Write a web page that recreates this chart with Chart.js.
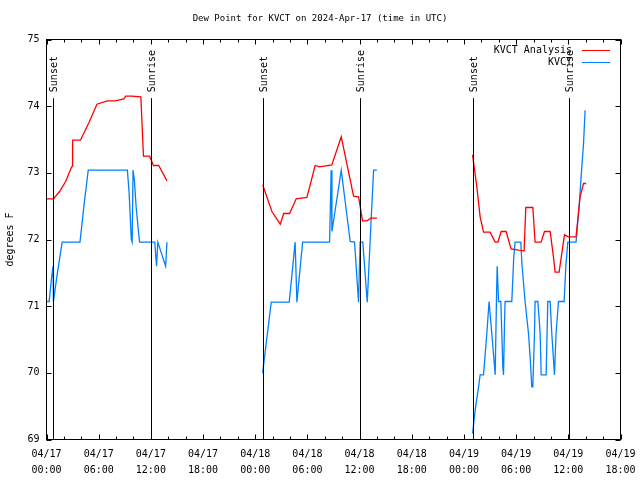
<!DOCTYPE html>
<html>
<head>
<meta charset="utf-8">
<script src="https://cdn.jsdelivr.net/npm/chart.js@4.4.1/dist/chart.umd.min.js"></script>
<style>
  html, body { margin: 0; padding: 0; background: #fff; }
</style>
</head>
<body>
<canvas id="grafico_dew" width="640" height="480"></canvas>
<script>
// hours since 04/17 00:00 UTC, null dew = gap between runs
const anaHours = [0, 0.8, 1.5, 2.2, 2.8, 2.95, 3.0, 3.9, 4.9, 5.8, 7.0, 7.9, 8.9, 9.1, 9.8, 10.85, 11.0, 11.15, 11.85, 12.3, 12.9, 13.85,
  19,
  24.85, 25.92, 26.88, 27.27, 27.95, 28.71, 29.94, 30.89, 31.41, 32.81, 33.89, 35.31, 35.88, 36.34, 36.84, 37.3, 37.99,
  43,
  48.99, 49.48, 49.86, 50.25, 51.01, 51.59, 51.9, 52.28, 52.85, 53.42, 54.28, 54.92, 55.11, 55.92, 56.18, 56.87, 57.26, 57.91, 58.29, 58.48, 58.94, 59.56, 60.02, 60.89, 61.35, 61.75, 62.05]
const anaDew = [72.61, 72.61, 72.72, 72.87, 73.06, 73.1, 73.49, 73.49, 73.76, 74.03, 74.08, 74.08, 74.11, 74.15, 74.15, 74.14, 73.69, 73.25, 73.25, 73.11, 73.11, 72.88,
  null,
  72.82, 72.42, 72.23, 72.39, 72.39, 72.61, 72.63, 73.11, 73.09, 73.12, 73.54, 72.65, 72.64, 72.28, 72.28, 72.32, 72.32,
  null,
  73.27, 72.79, 72.34, 72.11, 72.11, 71.96, 71.96, 72.12, 72.12, 71.86, 71.84, 71.83, 72.48, 72.48, 71.96, 71.96, 72.12, 72.12, 71.74, 71.51, 71.51, 72.07, 72.04, 72.04, 72.64, 72.84, 72.84]

const obsHours = [0.05, 0.3, 0.6, 0.75, 0.8, 1.2, 1.8, 3.85, 4.3, 4.8, 9.3, 9.5, 9.75, 9.85, 9.95, 10.1, 10.3, 10.55, 10.7, 12.45, 12.65, 12.8, 13.7, 13.85,
  19,
  24.85, 25.84, 27.91, 28.59, 28.79, 29.45, 32.55, 32.73, 32.82, 33.89, 34.92, 35.42, 35.88, 36.06, 36.37, 36.88, 37.3, 37.61, 37.99,
  43,
  48.99, 49.29, 49.68, 49.86, 50.25, 50.63, 50.89, 51.2, 51.52, 51.59, 51.75, 51.82, 51.98, 52.24, 52.47, 52.55, 52.67, 52.73, 53.5, 53.73, 53.88, 54.54, 54.66, 55.03,
  55.42, 55.61, 55.8, 55.92, 56.11, 56.18, 56.5, 56.76, 56.88, 57.45, 57.64, 57.91, 58.1, 58.41, 58.59, 58.87, 59.52, 59.71, 59.94, 60.89, 61.24, 61.47, 61.75, 61.93]
const obsDew = [71.07, 71.07, 71.45, 71.6, 71.07, 71.45, 71.96, 71.96, 72.5, 73.04, 73.04, 72.7, 72.0, 71.96, 73.04, 72.9, 72.5, 72.15, 71.96, 71.96, 71.6, 71.96, 71.6, 71.96,
  null,
  70.0, 71.06, 71.06, 71.96, 71.06, 71.96, 71.96, 73.04, 72.12, 73.04, 71.97, 71.96, 71.06, 71.96, 71.96, 71.06, 72.22, 73.04, 73.04,
  null,
  69.09, 69.44, 69.79, 69.97, 69.97, 70.59, 71.07, 70.59, 70.09, 69.97, 71.19, 71.6, 71.07, 71.07, 70.09, 69.97, 70.79, 71.07, 71.07, 71.74, 71.96, 71.96, 71.64, 71.07,
  70.59, 70.24, 69.79, 69.79, 70.59, 71.07, 71.07, 70.59, 69.97, 69.97, 71.07, 71.07, 70.59, 69.97, 70.59, 71.07, 71.07, 71.59, 71.96, 71.96, 72.49, 72.94, 73.44, 73.94]

const sunHours = [0.78, 12.05, 24.85, 36.07, 48.99, 60.09]
const sunNames = ['Sunset', 'Sunrise', 'Sunset', 'Sunrise', 'Sunset', 'Sunrise']
const sunLineTop = 74.12

const seriesNames = ['KVCT Analysis', 'KVCT']
const seriesColors = ['#ff0000', '#0080ff']

const days = ['04/17', '04/18', '04/19']

const mono = '"DejaVu Sans Mono", monospace'

function pts(hours, vals) {
  return hours.map((h, i) => ({ x: h, y: vals[i] }))
}

function tickLabel(v) {
  const d = days[Math.floor(v / 24)] || '04/' + (17 + Math.floor(v / 24))
  const hh = String(v % 24).padStart(2, '0')
  return [d, hh + ':00']
}

// frame, inward ticks, sunrise/sunset markers, legend, titles
const gnuplotLook = {
  id: 'gnuplotLook',
  afterDatasetsDraw(chart) {
    const { ctx, chartArea: a, scales: { x, y } } = chart
    ctx.save()
    ctx.strokeStyle = '#000'
    ctx.fillStyle = '#000'
    ctx.lineWidth = 1

    // sun lines
    ctx.font = '10px ' + mono
    const yTop = y.getPixelForValue(sunLineTop)
    sunHours.forEach((h, i) => {
      const px = Math.round(x.getPixelForValue(h)) + 0.5
      ctx.beginPath()
      ctx.moveTo(px, yTop)
      ctx.lineTo(px, a.bottom)
      ctx.stroke()
      ctx.save()
      ctx.translate(px + 1, yTop - 6)
      ctx.rotate(-Math.PI / 2)
      ctx.textAlign = 'left'
      ctx.textBaseline = 'middle'
      ctx.fillText(sunNames[i], 0, 0)
      ctx.restore()
    })

    // border
    ctx.strokeRect(a.left, a.top, a.right - a.left, a.bottom - a.top)

    // x ticks (major every 6h, minor every 2h), top and bottom
    ctx.beginPath()
    for (let h = x.min; h <= x.max; h += 2) {
      const px = Math.round(x.getPixelForValue(h)) + 0.5
      const len = h % 6 === 0 ? 5 : 3
      ctx.moveTo(px, a.bottom); ctx.lineTo(px, a.bottom - len)
      ctx.moveTo(px, a.top); ctx.lineTo(px, a.top + len)
    }
    // y ticks left and right
    for (let v = y.min; v <= y.max; v += 1) {
      const py = Math.round(y.getPixelForValue(v)) + 0.5
      ctx.moveTo(a.left, py); ctx.lineTo(a.left + 5, py)
      ctx.moveTo(a.right, py); ctx.lineTo(a.right - 5, py)
    }
    ctx.stroke()

    // legend
    ctx.font = '10px ' + mono
    ctx.textAlign = 'right'
    ctx.textBaseline = 'middle'
    seriesNames.forEach((n, i) => {
      const ly = 50 + i * 12
      ctx.fillStyle = '#000'
      ctx.fillText(n, 572, ly)
      ctx.strokeStyle = seriesColors[i]
      ctx.beginPath()
      ctx.moveTo(582, ly + 0.5)
      ctx.lineTo(610, ly + 0.5)
      ctx.stroke()
    })

    // title
    ctx.fillStyle = '#000'
    ctx.textAlign = 'center'
    ctx.font = '9px ' + mono
    ctx.fillText('Dew Point for KVCT on 2024-Apr-17 (time in UTC)', 320, 19)

    // y axis title
    ctx.font = '10px ' + mono
    ctx.save()
    ctx.translate(10, (a.top + a.bottom) / 2)
    ctx.rotate(-Math.PI / 2)
    ctx.fillText('degrees F', 0, 0)
    ctx.restore()

    ctx.restore()
  }
}

const ctx = document.getElementById('grafico_dew')

const graph = new Chart(ctx, {
  type: 'line',
  data: {
    datasets: [{
      label: seriesNames[0],
      data: pts(anaHours, anaDew),
      borderColor: seriesColors[0],
      borderWidth: 1.3,
      spanGaps: false
    }, {
      label: seriesNames[1],
      data: pts(obsHours, obsDew),
      borderColor: seriesColors[1],
      borderWidth: 1.3,
      spanGaps: false
    }]
  },
  options: {
    responsive: false,
    animation: false,
    devicePixelRatio: 1,
    layout: { padding: { top: 39.5, right: 19.5, left: 0, bottom: 0 } },
    elements: { point: { radius: 0 }, line: { tension: 0 } },
    plugins: {
      legend: { display: false },
      title: { display: false },
      tooltip: { enabled: false }
    },
    scales: {
      x: {
        type: 'linear',
        min: 0,
        max: 66,
        grid: { display: false, drawTicks: false },
        border: { display: false },
        afterFit: s => { s.height = 40.5; s.paddingLeft = 0; s.paddingRight = 0 },
        ticks: {
          stepSize: 6,
          autoSkip: false,
          maxRotation: 0,
          padding: 7,
          color: '#000',
          font: { family: mono, size: 10, lineHeight: 1.6 },
          callback: v => tickLabel(v)
        }
      },
      y: {
        min: 69,
        max: 75,
        grid: { display: false, drawTicks: false },
        border: { display: false },
        afterFit: s => { s.width = 46.5 },
        ticks: {
          stepSize: 1,
          padding: 7,
          color: '#000',
          font: { family: mono, size: 10 }
        }
      }
    }
  },
  plugins: [gnuplotLook]
})
</script>
</body>
</html>
